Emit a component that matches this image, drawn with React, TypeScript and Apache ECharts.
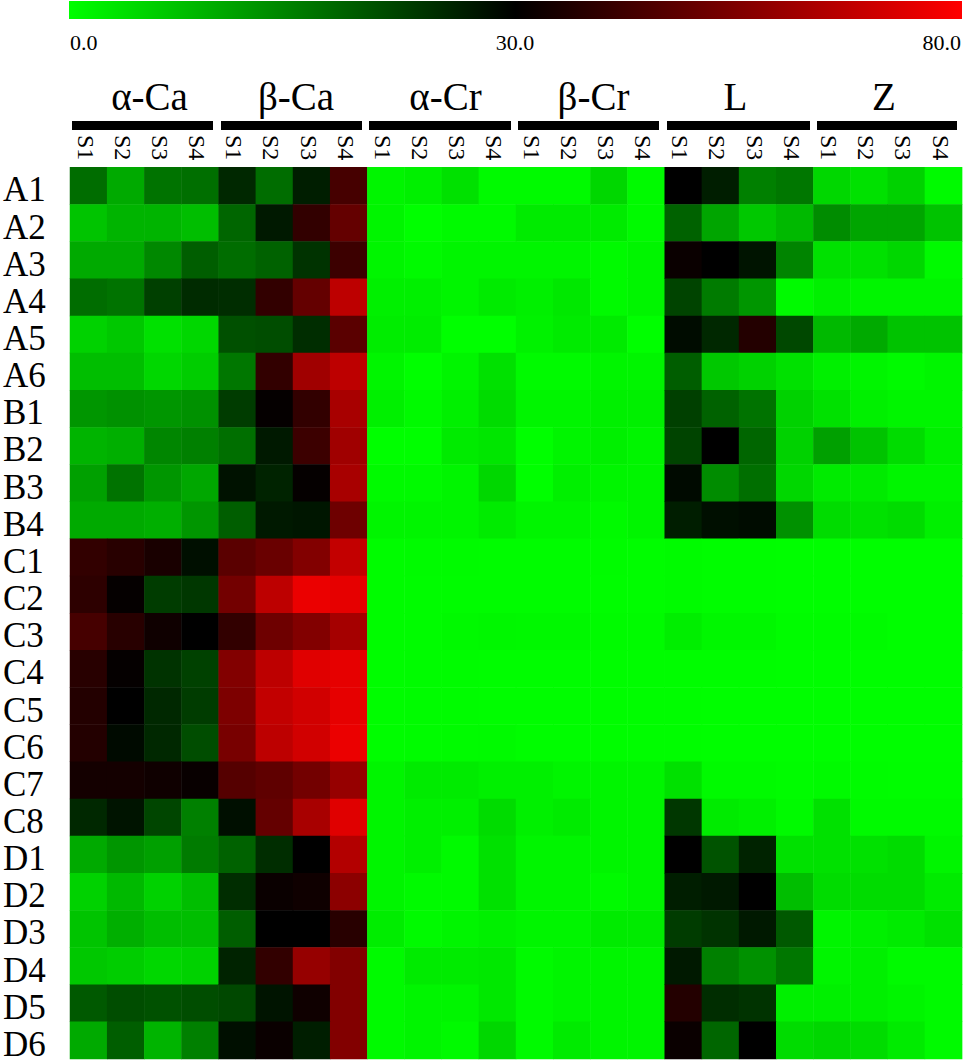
import React, { useEffect, useRef } from "react";
import * as echarts from "echarts";

const rowLabels = ["A1","A2","A3","A4","A5","A6","B1","B2","B3","B4","C1","C2","C3","C4","C5","C6","C7","C8","D1","D2","D3","D4","D5","D6"];
const groupLabels = ["α-Ca","β-Ca","α-Cr","β-Cr","L","Z"];
const sampleLabels = ["S1","S2","S3","S4"];
const legendLabels = ["0.0","30.0","80.0"];

const alphaCa = [
  [17.2,10,16.5,17],[7,8.8,8.8,7.6],[10,10,14,19],[17.2,16.5,22.5,25],[5.3,6.5,3.5,4.7],[7.6,7.6,4.7,5.9],
  [12.4,13,12.4,13],[8.8,9.4,14.2,15],[11.2,16.5,12.4,10.4],[10,10,9.4,12.4],
  [39.8,37.8,34.9,28.2],[38.8,31,23,23.5],[43.7,37.8,33,30],[37.8,31,24,22.4],[36.9,30,25.3,23],[36.9,28.8,25.3,21],
  [34,34,33,31.5],[25.3,27.6,21.8,15],
  [10,12.4,11.2,15.5],[5.3,8.2,5.3,7.6],[7,9.4,7.6,7.6],[6.5,5.9,4.7,5.3],[19.5,21,20.5,21],[10,19,8.8,15],
];
const betaCa = [
  [25.3,17.2,26.5,43.7],[18,27,39.8,49.6],[17.2,18.5,24,41.8],[24.7,39.8,49.6,67],[20.6,21,24.7,47.6],[16,39.8,61.4,67],
  [23,31,39.8,63],[17,27,41.8,61.4],[27.9,25.9,31,63],[19,27,27.4,51.6],
  [47.6,50.6,55.5,68.2],[52.5,67,76,75],[39.8,51.6,55.5,62.4],[55.5,67,74,75],[54.5,68,71,75],[53.5,67,71,76],
  [46.7,48.6,52.5,59.4],[28.2,49.6,63,74],
  [18.5,24.7,30,65],[24.7,32,33,57.5],[19,30,30,37.8],[25.9,39.8,59.4,55.5],[21.5,27.6,33,55.5],[28.2,32,26.5,55.5],
];
const alphaCr = [
  [1.2,1.8,3.5,0.6],[1.2,0,0.6,0.6],[1.2,0.6,1.2,1.2],[1.8,1.8,1.2,2.4],[2.1,2.1,0,0],[1.2,0,1.2,3.5],
  [1.8,0.6,1.8,4.1],[0,0,2.4,2.9],[0.6,0.6,1.2,4.7],[1.2,1.2,1.2,2.4],
  [0.3,0.5,0.5,0.3],[0.3,0.3,0.3,0.3],[0.3,0.4,0.7,1],[0.2,0.3,0.3,0.2],[0.2,0.3,0.3,0.2],[0.2,0.3,0.5,0.6],
  [1.2,2.4,2.4,1.8],[1.2,1.8,1.8,4.1],
  [1.2,1.8,0.6,3.5],[1.2,0.6,0.6,3.5],[2.1,0.6,1.2,1.8],[0.6,2.4,2.4,2.7],[0.6,1.2,1.2,2.7],[0.6,1.2,0.6,4.7],
];
const betaCr = [
  [0.6,0.6,4.7,0.6],[2.4,2.4,2.4,0.6],[1.2,1.2,0.6,1.2],[1.8,2.7,0.6,1.2],[1.5,2.4,2.4,0],[0.6,0.6,1.2,1.2],
  [1.2,1.2,1.8,1.8],[0,1.2,1.8,1.2],[0,1.8,1.2,1.2],[1.2,1.2,0.6,1.2],
  [0.3,0.3,0.3,0.2],[0.3,0.3,0.2,0.2],[0.8,0.8,0.5,0.5],[0.2,0.2,0.2,0.2],[0.2,0.2,0.2,0.2],[0.2,0.2,0.2,0.2],
  [1.8,1.2,1.2,1.2],[1.8,2.4,1.2,1.2],
  [1.2,1.2,1.2,1.2],[1.2,1.2,0.6,1.2],[1.2,1.2,2.4,2.4],[0.6,1.2,1.2,1.2],[0.6,1.2,1.2,1.2],[0.6,2.4,1.2,1.2],
];
const leucine = [
  [30,26.5,15,16],[18.5,10.6,6.5,8.2],[32,30,27.6,14.5],[22,15.5,12.4,0.6],[28.6,25.3,36.9,21.5],[19,6.5,5.3,3.5],
  [22.5,18.5,16.5,5.3],[22,30,18,5.3],[28.8,13.5,17,4.7],[26.5,28.2,28.6,13],
  [0.5,0.2,0.2,0.1],[0.5,0.2,0.2,0.1],[2,1,0.9,0.3],[0.2,0.2,0.2,0.1],[0.2,0.1,0.1,0.1],[0.2,0.1,0.1,0.1],
  [3.5,0.6,0.6,0.3],[23.5,2.4,1.8,0.6],
  [30,20.2,25.9,3.5],[26.5,27,30,7.6],[23,24,27,19.5],[27,15,13,16],[36.9,24.7,24,1.8],[32,18,30,4.1],
];
const zeaxanthin = [
  [4.7,3.5,5.3,0.6],[13.5,10.6,10.6,7.1],[3.5,3.5,4.7,0.6],[1.8,1.2,1.2,1.2],[8.2,10,7.1,7.1],[1.8,1.2,0.6,1.2],
  [3.5,1.8,1.2,1.2],[11.2,7.1,4.1,1.8],[2.4,2.4,1.2,1.2],[4.1,3.5,4.1,1.8],
  [0.1,0.1,0.1,0.1],[0.1,0.1,0.1,0.1],[0.3,0.5,0.1,0.1],[0.1,0.1,0.1,0.1],[0.1,0.1,0.1,0.1],[0.1,0.1,0.1,0.1],
  [0.6,0.3,0.2,0.2],[3.5,0.6,0.6,0.6],
  [3.5,3.5,4.1,1.2],[4.1,4.1,4.1,2.4],[1.2,1.8,2.4,3.5],[1.2,1.8,0.6,0.6],[1.8,1.8,1.2,0.6],[4.7,4.1,2.4,0.6],
];
const groups = [alphaCa, betaCa, alphaCr, betaCr, leucine, zeaxanthin];

const colorStops = ["#00ff00","#00aa00","#005500","#000000","#330000","#660000","#990000","#cc0000","#ff0000"];
const groupBars = [[72,213],[221,362],[369,511],[518,659],[667,810],[817,957]];
const groupTextCenters = [149.5, 296, 445.5, 593.5, 735.5, 884];
const SERIF = '"Liberation Serif", serif';

export default function App() {
  const ref = useRef<HTMLDivElement>(null);
  useEffect(() => {
    const chart = echarts.init(ref.current!, undefined, { renderer: "svg" });
    const columns = groups.flatMap((g, gi) => sampleLabels.map((s) => `${gi}-${s}`));
    const data: number[][] = [];
    groups.forEach((g, gi) => g.forEach((row, ri) => row.forEach((v, si) => data.push([gi * 4 + si, ri, v]))));
    const graphic: any[] = [
      {
        type: "rect", shape: { x: 69, y: 1, width: 893, height: 18 },
        style: { fill: new echarts.graphic.LinearGradient(0, 0, 1, 0, [
          { offset: 0, color: "#00ff00" }, { offset: 0.5, color: "#000000" }, { offset: 1, color: "#ff0000" },
        ]) },
      },
      { type: "text", x: 70, y: 42, style: { text: legendLabels[0], font: `22px ${SERIF}`, fill: "#000", textAlign: "left", textVerticalAlign: "middle" } },
      { type: "text", x: 515, y: 42, style: { text: legendLabels[1], font: `22px ${SERIF}`, fill: "#000", textAlign: "center", textVerticalAlign: "middle" } },
      { type: "text", x: 961, y: 42, style: { text: legendLabels[2], font: `22px ${SERIF}`, fill: "#000", textAlign: "right", textVerticalAlign: "middle" } },
    ];
    groupLabels.forEach((t, i) => {
      const [a, b] = groupBars[i];
      graphic.push({ type: "rect", shape: { x: a, y: 121, width: b - a, height: 9 }, style: { fill: "#000" } });
      graphic.push({ type: "text", x: groupTextCenters[i], y: 96, style: { text: t, font: `39px ${SERIF}`, fill: "#000", textAlign: "center", textVerticalAlign: "middle" } });
    });
    chart.setOption({
      animation: false,
      backgroundColor: "#fff",
      grid: { left: 69.5, top: 167.3, width: 892.6, height: 891.7 },
      xAxis: {
        type: "category", position: "top", data: columns,
        axisLine: { show: false }, axisTick: { show: false }, splitLine: { show: false },
        axisLabel: {
          interval: 0, rotate: 90, margin: 7, fontSize: 24, fontFamily: SERIF, color: "#000",
          verticalAlign: "top", lineHeight: 6,
          formatter: (v: string) => v.split("-")[1],
        },
      },
      yAxis: {
        type: "category", inverse: true, data: rowLabels,
        axisLine: { show: false }, axisTick: { show: false }, splitLine: { show: false },
        axisLabel: {
          interval: 0, margin: 67, fontSize: 35, fontFamily: SERIF, color: "#000", align: "left",
          verticalAlign: "top", lineHeight: 8,
        },
      },
      visualMap: { show: false, type: "continuous", min: 0, max: 80, dimension: 2, inRange: { color: colorStops } },
      series: [{ type: "heatmap", data, progressive: 0, itemStyle: { borderWidth: 0 } }],
      graphic,
    });
    return () => chart.dispose();
  }, []);
  return <div ref={ref} style={{ position: "fixed", left: 0, top: 0, width: 966, height: 1064 }} />;
}
